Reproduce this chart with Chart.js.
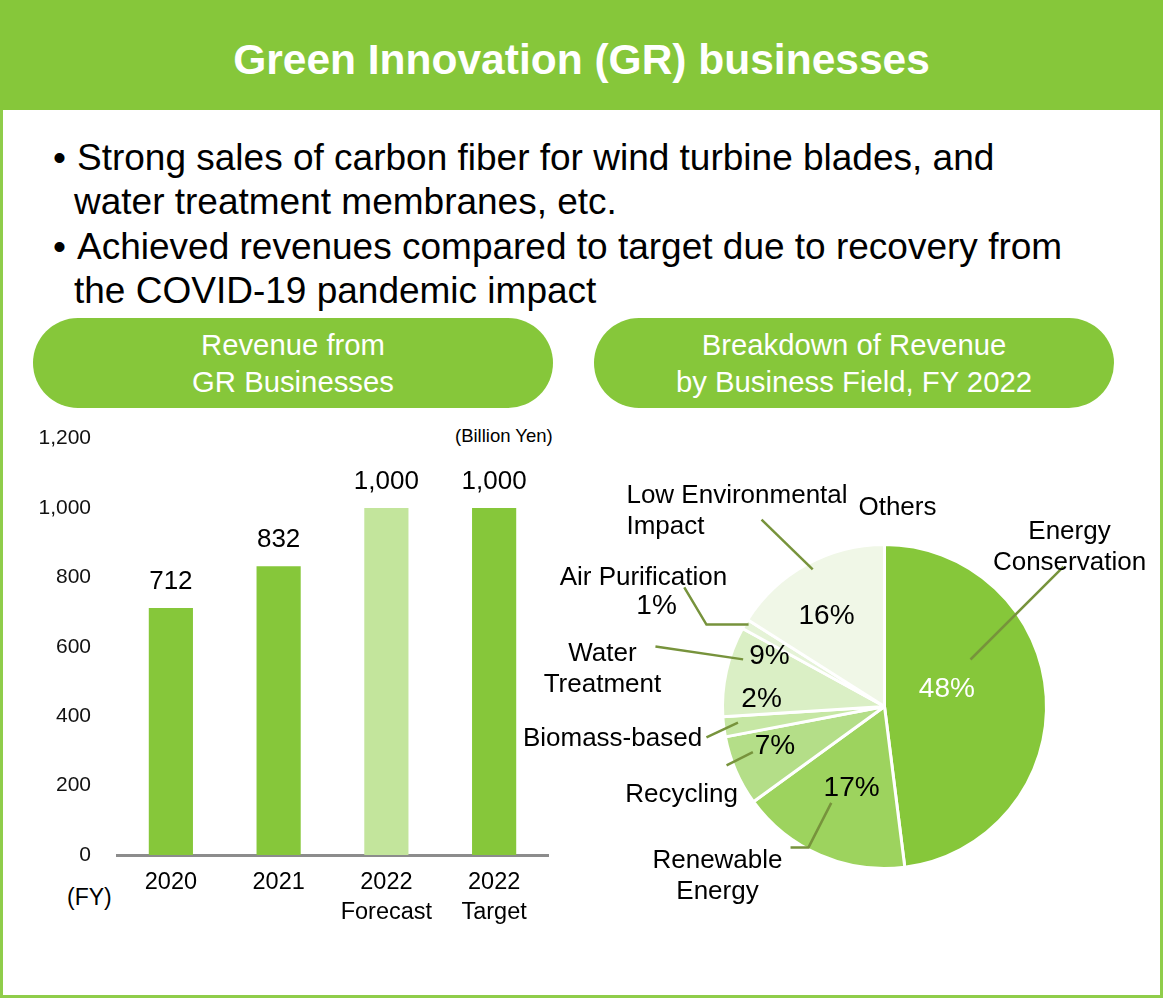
<!DOCTYPE html>
<html>
<head>
<meta charset="utf-8">
<script src="https://cdn.jsdelivr.net/npm/chart.js@4.4.1/dist/chart.umd.min.js"></script>
<style>
  html, body { margin: 0; padding: 0; background: #fff; }
  body { width: 1163px; height: 998px; position: relative; overflow: hidden; font-family: "Liberation Sans", Arial, sans-serif; color: #000; }
  .frame { position: absolute; left: 0; top: 0; width: 1163px; height: 998px; box-sizing: border-box; border: 3px solid #8fcd4a; }
  .header { position: absolute; left: 0; top: 0; width: 1163px; height: 110px; background: #86c73a; color: #fff; font-weight: bold; font-size: 42.5px; text-align: center; line-height: 120px; }
  .bullets { position: absolute; left: 53px; top: 136px; font-size: 37px; line-height: 44.3px; white-space: nowrap; }
  .bullets .dot { display: inline-block; width: 24px; }
  .bullets .cont { padding-left: 21px; }
  .pill { position: absolute; top: 318px; height: 90px; width: 520px; border-radius: 45px; background: #86c73a; color: #fff; font-size: 29.3px; line-height: 37px; text-align: center; box-sizing: border-box; padding-top: 8px; }
  .note { position: absolute; font-size: 23px; }
  canvas { position: absolute; }
</style>
</head>
<body>
<div class="frame"></div>
<div class="header">Green Innovation (GR) businesses</div>
<div class="bullets">
  <div><span class="dot">•</span>Strong sales of carbon fiber for wind turbine blades, and</div>
  <div class="cont">water treatment membranes, etc.</div>
  <div><span class="dot">•</span>Achieved revenues compared to target due to recovery from</div>
  <div class="cont">the COVID-19 pandemic impact</div>
</div>
<div class="pill" style="left:33px">Revenue from<br>GR Businesses</div>
<div class="pill" style="left:594px">Breakdown of Revenue<br>by Business Field, FY 2022</div>
<div class="note" style="left:67px; top:884px;">(FY)</div>
<div class="note" style="left:455px; top:425px; font-size:18.5px;">(Billion Yen)</div>

<div style="position:absolute;left:30px;top:400px;width:550px;height:530px;"><canvas id="barChart"></canvas></div>
<div style="position:absolute;left:500px;top:440px;width:663px;height:500px;"><canvas id="pieChart"></canvas></div>

<script>
// Revenue from GR businesses (billion yen)
const years = [['2020'], ['2021'], ['2022', 'Forecast'], ['2022', 'Target']];
const revenue = [712, 832, 1000, 1000];
const yTicks = [0, 200, 400, 600, 800, 1000, 1200];

// Breakdown by business field, FY 2022 (%)
const fields = ['Energy\nConservation', 'Renewable\nEnergy', 'Recycling', 'Biomass-based', 'Water\nTreatment', 'Air Purification', 'Low Environmental\nImpact'];
const shares = [48, 17, 7, 2, 9, 1, 16];

const green = '#86c73a';
const barColors = [green, green, '#c3e59c', green];
const sliceColors = ['#86c73a', '#9dd35e', '#b4de88', '#c6e7a4', '#daefc5', '#e5f3d7', '#f0f7e7'];
const leaderColor = '#77933c';
const FONT = '"Liberation Sans", Arial, sans-serif';

// value labels over the bars
const barValues = {
  id: 'barValues',
  afterDatasetsDraw(chart) {
    const ctx = chart.ctx;
    ctx.save();
    ctx.font = '26px ' + FONT;
    ctx.fillStyle = '#000';
    ctx.textAlign = 'center';
    ctx.textBaseline = 'middle';
    chart.getDatasetMeta(0).data.forEach((bar, i) => {
      ctx.fillText(revenue[i].toLocaleString('en-US'), bar.x, bar.y - 26);
    });
    ctx.restore();
  }
};

new Chart(document.getElementById('barChart'), {
  type: 'bar',
  data: {
    labels: years,
    datasets: [{ data: revenue, backgroundColor: barColors, categoryPercentage: 1, barPercentage: 0.41 }]
  },
  options: {
    responsive: true,
    maintainAspectRatio: false,
    animation: false,
    events: [],
    layout: { padding: { top: 17, right: 32, left: 0, bottom: 0 } },
    plugins: { legend: { display: false }, tooltip: { enabled: false } },
    scales: {
      x: {
        grid: { display: false, drawTicks: false },
        border: { display: true, color: '#8c8c8c', width: 3 },
        ticks: { color: '#000', padding: 13, font: { size: 23.5, family: FONT, lineHeight: 1.25 } },
        afterFit(s) { s.height = 75; }
      },
      y: {
        min: 0, max: 1200,
        afterBuildTicks(s) { s.ticks = yTicks.map(v => ({ value: v })); },
        grid: { display: false, drawTicks: false },
        border: { display: false },
        ticks: { color: '#111', padding: 26, font: { size: 21, family: FONT },
                 callback: v => v.toLocaleString('en-US') },
        afterFit(s) { s.width = 87; }
      }
    }
  },
  plugins: [barValues]
});

// label layout for the pie, in units of the pie radius (dx, dy from centre)
// pct: [fraction along slice, radius fraction] or null if drawn outside
const pctPos = [[0.43, 0.40], [0.475, 0.545], [0.63, 0.72], [1.96, 0.76], [0.84, 0.775], null, [0.43, 0.66]];
const namePos = [
  { at: [1.142, -1.08], align: 'center', leader: [[1.105, -0.864]], anchor: [0.355, 0.605] },
  { at: [-1.031, 0.951], align: 'center', leader: [[-0.58, 0.87], [-0.469, 0.87]], anchor: [0.59, 0.68] },
  { at: [-1.253, 0.543], align: 'center', leader: [[-0.975, 0.364]], anchor: [0.67, 0.86] },
  { at: [-1.679, 0.198], align: 'center', leader: [[-1.099, 0.191]], anchor: [0.63, 0.91] },
  { at: [-1.741, -0.327], align: 'center', leader: [[-1.414, -0.37]], anchor: [0.68, 0.92] },
  { at: [-1.488, -0.796], align: 'center', leader: [[-1.236, -0.735], [-1.099, -0.506]], anchor: [0.64, 0.98], pct: [-1.407, -0.617] },
  { at: [-1.593, -1.302], align: 'left', leader: [[-0.759, -1.154]], anchor: [0.52, 0.955] }
];
const othersPos = [0.08, -1.228];

const pieLabels = {
  id: 'pieLabels',
  afterDatasetsDraw(chart) {
    const ctx = chart.ctx;
    const arcs = chart.getDatasetMeta(0).data;
    const cx = arcs[0].x, cy = arcs[0].y, R = arcs[0].outerRadius;
    const off = p => [cx + p[0] * R, cy + p[1] * R];
    const onArc = (i, p) => {
      const a = arcs[i];
      const ang = a.startAngle + (a.endAngle - a.startAngle) * p[0];
      return [cx + Math.cos(ang) * R * p[1], cy + Math.sin(ang) * R * p[1]];
    };
    ctx.save();
    // leader lines
    ctx.strokeStyle = leaderColor;
    ctx.lineWidth = 2.5;
    namePos.forEach((n, i) => {
      const pts = n.leader.map(off).concat([onArc(i, n.anchor)]);
      ctx.beginPath();
      ctx.moveTo(pts[0][0], pts[0][1]);
      pts.slice(1).forEach(p => ctx.lineTo(p[0], p[1]));
      ctx.stroke();
    });
    // field names
    ctx.fillStyle = '#000';
    ctx.textBaseline = 'middle';
    ctx.font = '26px ' + FONT;
    namePos.forEach((n, i) => {
      const [x, y] = off(n.at);
      ctx.textAlign = n.align;
      fields[i].split('\n').forEach((line, k) => ctx.fillText(line, x, y + k * 31.7));
    });
    ctx.textAlign = 'center';
    const [ox, oy] = off(othersPos);
    ctx.fillText('Others', ox, oy);
    // percentages
    ctx.font = '28px ' + FONT;
    shares.forEach((v, i) => {
      const p = pctPos[i] ? onArc(i, pctPos[i]) : off(namePos[i].pct);
      ctx.fillStyle = i === 0 ? '#fff' : '#000';
      ctx.fillText(v + '%', p[0], p[1]);
    });
    ctx.restore();
  }
};

new Chart(document.getElementById('pieChart'), {
  type: 'pie',
  data: {
    labels: fields,
    datasets: [{ data: shares, backgroundColor: sliceColors, borderColor: '#fff', borderWidth: 3 }]
  },
  options: {
    responsive: true,
    maintainAspectRatio: false,
    animation: false,
    events: [],
    layout: { padding: { left: 221, right: 115, top: 103, bottom: 70 } },
    plugins: { legend: { display: false }, tooltip: { enabled: false } }
  },
  plugins: [pieLabels]
});
</script>
</body>
</html>
